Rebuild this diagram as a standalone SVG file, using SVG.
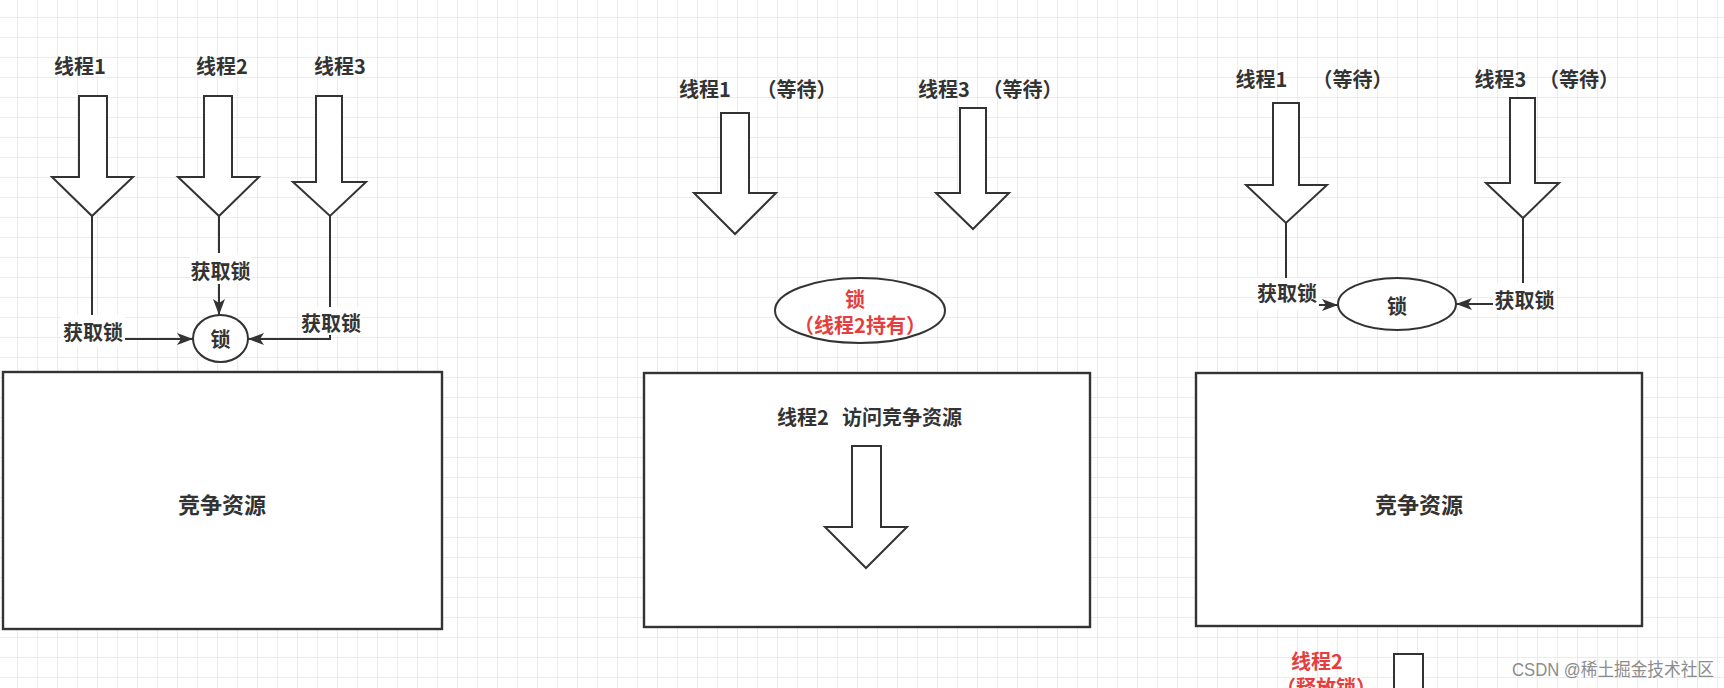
<svg xmlns="http://www.w3.org/2000/svg" width="1724" height="688" viewBox="0 0 1724 688">
<style>
.t{font-family:"Noto Sans CJK SC","Noto Sans",sans-serif;font-weight:bold;font-size:20px;fill:#333;dominant-baseline:central;text-anchor:middle}
.red{fill:#e53e3e}
.big{font-size:22px}
.shape{fill:#fff;stroke:#333;stroke-width:2;stroke-linejoin:miter}
.box{fill:#fff;stroke:#333;stroke-width:2.4}
.edge{fill:none;stroke:#333;stroke-width:2}
.lbg{fill:#fff}
.wm{font-family:"Liberation Sans","Noto Sans CJK SC",sans-serif;font-size:18px;fill:#8c8c8c;dominant-baseline:central}
</style>
<defs>
<pattern id="grid" width="20" height="20" patternUnits="userSpaceOnUse" x="17" y="17">
<path d="M0.5,0 V20 M0,0.5 H20" fill="none" stroke="#ececec" stroke-width="1"/>
</pattern>
<marker id="arr" markerUnits="userSpaceOnUse" markerWidth="17" markerHeight="12" refX="16" refY="6" orient="auto">
<path d="M0,0 L16,6 L0,12 L4,6 Z" fill="#333"/>
</marker>
</defs>
<rect width="1724" height="688" fill="#fff"/>
<rect width="1724" height="688" fill="url(#grid)"/>

<!-- Panel 1 -->
<g id="p1-res"><rect class="box" x="3" y="372" width="439" height="257"/><text class="t big" x="222" y="503">竞争资源</text></g>
<g id="p1-t1"><text class="t" x="80" y="65">线程1</text><path class="shape" d="M79,96 H107 V177 H133 L92,216 L52,177 H79 Z"/></g>
<g id="p1-t2"><text class="t" x="222" y="65">线程2</text><path class="shape" d="M204,96 H232 V177 H259 L219,216 L178,177 H204 Z"/></g>
<g id="p1-t3"><text class="t" x="340" y="65">线程3</text><path class="shape" d="M316,96 H342 V182 H366 L330,216 L293,182 H316 Z"/></g>
<g id="p1-lock"><ellipse class="shape" cx="220.5" cy="338.5" rx="27.5" ry="23.5"/><text class="t" x="220.5" y="338">锁</text></g>

<!-- Panel 2 -->
<g id="p2-res"><rect class="box" x="644" y="373" width="446" height="254"/>
<text class="t"><tspan x="803" y="416">线程2</tspan><tspan x="902" y="416">访问竞争资源</tspan></text>
<path class="shape" d="M852,446 H881 V527 H907 L866,568 L825,527 H852 Z"/></g>
<g id="p2-t1"><text class="t"><tspan x="705" y="88">线程1</tspan><tspan x="796.5" y="88">（等待）</tspan></text><path class="shape" d="M721,113 H749 V193 H776 L735,234 L694,193 H721 Z"/></g>
<g id="p2-t3"><text class="t"><tspan x="944" y="88">线程3</tspan><tspan x="1022.5" y="88">（等待）</tspan></text><path class="shape" d="M960,108 H986 V193 H1009 L973,229 L936,193 H960 Z"/></g>
<g id="p2-lock"><ellipse class="shape" cx="860" cy="310.5" rx="85" ry="32.5"/><text class="t red"><tspan x="855" y="298">锁</tspan><tspan x="860" y="324">（线程2持有）</tspan></text></g>

<!-- Panel 3 -->
<g id="p3-res"><rect class="box" x="1196" y="373" width="446" height="253"/><text class="t big" x="1419" y="503">竞争资源</text></g>
<g id="p3-t1"><text class="t"><tspan x="1261.5" y="78">线程1</tspan><tspan x="1352.5" y="78">（等待）</tspan></text><path class="shape" d="M1273,103 H1299 V185 H1327 L1286,223 L1246,185 H1273 Z"/></g>
<g id="p3-t3"><text class="t"><tspan x="1500.5" y="78">线程3</tspan><tspan x="1579" y="78">（等待）</tspan></text><path class="shape" d="M1510,98 H1535 V183 H1559 L1523,218 L1486,183 H1510 Z"/></g>
<g id="p3-lock"><ellipse class="shape" cx="1397" cy="304" rx="59" ry="26"/><text class="t" x="1397" y="305">锁</text></g>
<g id="p3-release"><text class="t red"><tspan x="1317" y="660">线程2</tspan><tspan x="1326" y="686">（释放锁）</tspan></text><path class="shape" d="M1394,700 V654 H1423 V700"/></g>

<!-- Connectors -->
<g id="connectors">
<path class="edge" d="M92,216 V339 H193" marker-end="url(#arr)"/>
<path class="edge" d="M219,216 V315" marker-end="url(#arr)"/>
<path class="edge" d="M330,216 V339 H248" marker-end="url(#arr)"/>
<path class="edge" d="M1286,223 V305 H1338" marker-end="url(#arr)"/>
<path class="edge" d="M1523,218 V304 H1456" marker-end="url(#arr)"/>
<rect class="lbg" x="61" y="315" width="64" height="32"/><text class="t" x="93" y="331">获取锁</text>
<rect class="lbg" x="190" y="253" width="61" height="31"/><text class="t" x="220.5" y="270">获取锁</text>
<rect class="lbg" x="300" y="307" width="62" height="28"/><text class="t" x="331" y="322">获取锁</text>
<rect class="lbg" x="1255" y="278" width="64" height="32"/><text class="t" x="1287" y="292">获取锁</text>
<rect class="lbg" x="1493" y="283" width="63" height="31"/><text class="t" x="1524.5" y="299">获取锁</text>
</g>

<text class="wm" x="1512" y="670" textLength="202" lengthAdjust="spacingAndGlyphs">CSDN @稀土掘金技术社区</text>
</svg>
